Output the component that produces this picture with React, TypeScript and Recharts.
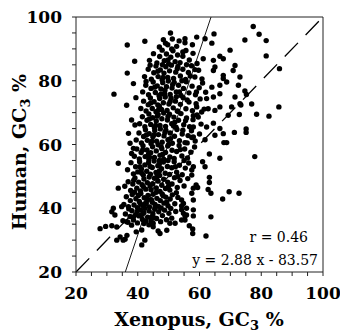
import React from "react";
import {
  ScatterChart,
  Scatter,
  XAxis,
  YAxis,
  ReferenceLine,
} from "recharts";

// [Xenopus GC3 %, Human GC3 %]
const upperLeftPairs: [number, number][] = [
  [36.6, 91.2], [42.3, 92.4], [49.0, 91.8], [32.3, 75.8], [36.6, 82.4],
  [36.4, 72.3], [39.0, 86.1], [38.6, 79.1], [42.7, 79.8], [39.4, 74.7],
  [38.0, 57.2], [38.6, 58.8], [33.7, 54.1], [33.7, 46.3], [34.8, 40.5],
  [38.0, 67.7], [39.1, 66.1], [37.5, 60.4], [37.0, 63.5],
];

const lowerLeftPairs: [number, number][] = [
  [27.8, 33.6], [29.6, 34.3], [31.6, 34.5], [33.2, 34.1], [33.2, 30.0],
  [35.3, 30.0], [31.6, 38.9], [32.6, 37.9], [32.1, 40.0], [36.4, 35.8],
  [38.0, 34.7], [41.3, 33.2], [41.3, 28.5], [42.3, 30.0], [47.2, 32.1],
  [50.4, 35.3], [52.1, 35.3], [45.0, 34.2], [44.5, 37.3], [38.6, 37.3],
  [35.9, 30.3], [34.3, 31.0], [46.6, 32.9], [36.5, 31.5], [39.5, 32.6],
  [43.6, 34.8], [49.4, 33.1],
];

const rightPairs: [number, number][] = [
  [77.4, 97.0], [79.3, 94.6], [74.7, 92.8], [81.6, 92.6], [81.6, 87.8],
  [85.9, 83.8], [76.9, 72.7], [85.7, 71.8], [78.5, 69.5], [82.5, 68.9],
  [75.1, 64.9], [75.1, 63.8], [73.4, 72.4], [72.9, 69.4], [75.2, 75.7],
  [77.9, 56.2], [63.2, 57.0], [66.6, 55.7], [61.0, 54.6], [61.8, 53.0],
  [58.0, 53.0], [57.5, 52.0], [57.5, 50.4], [63.2, 49.7], [63.2, 48.1],
  [58.9, 47.3], [58.0, 46.3], [59.4, 46.5], [62.8, 45.9], [63.7, 44.7],
  [69.6, 45.2], [72.8, 44.7], [67.5, 42.9], [57.5, 44.7], [58.0, 42.6],
  [58.0, 39.5], [58.0, 37.6], [63.7, 37.3], [56.7, 34.5], [57.8, 33.5],
  [57.8, 32.1], [62.1, 31.3], [54.2, 39.5], [54.8, 38.4], [55.3, 37.6],
  [55.8, 37.9], [54.2, 36.3], [55.3, 36.3], [54.8, 41.5], [54.2, 42.6],
  [55.8, 40.0],
  [55.3, 93.2], [55.3, 91.9], [59.1, 93.7], [64.0, 91.8], [54.6, 89.0],
  [61.8, 93.2], [61.2, 86.9], [69.9, 89.6], [64.5, 86.4], [66.6, 87.7],
  [67.7, 86.9], [71.5, 84.8], [70.9, 83.2], [73.1, 81.2], [67.7, 81.7],
  [64.5, 83.2], [65.0, 84.3], [67.7, 80.7], [72.6, 78.6], [66.6, 78.6],
  [68.8, 79.6], [64.0, 78.0], [74.7, 76.8], [71.5, 74.9], [66.6, 75.9],
  [64.5, 74.9], [62.3, 74.4], [70.4, 71.8], [69.3, 69.2], [66.6, 71.8],
  [73.1, 72.8], [62.8, 71.2], [65.0, 70.7], [59.1, 71.8], [60.7, 70.2],
  [59.6, 68.6], [64.5, 66.7], [62.3, 65.5], [66.6, 65.0], [65.0, 62.9],
  [67.7, 63.4], [58.0, 65.5], [58.0, 62.4], [61.8, 61.5], [67.9, 60.6],
  [68.8, 60.6], [71.3, 63.8], [64.7, 94.7], [57.7, 91.3],
];

const coreLowPairs: [number, number][] = [
  [35.2, 36.1], [36.0, 38.2], [36.8, 35.6], [37.5, 37.4], [38.1, 39.2],
  [38.6, 36.3], [39.3, 38.0], [39.9, 35.4], [40.4, 37.6], [40.9, 39.5],
  [41.5, 36.5], [42.0, 38.6], [42.6, 35.9], [43.2, 37.2], [43.7, 39.1],
  [44.3, 36.0], [44.9, 38.3], [45.5, 39.7], [46.1, 36.8], [46.8, 38.9],
  [47.4, 35.8], [48.0, 37.7], [48.7, 39.4], [49.3, 36.4], [50.1, 38.4],
  [51.0, 36.9], [52.3, 39.0], [37.1, 39.8], [45.0, 35.3], [41.2, 38.0],
  [35.5, 41.2], [36.3, 43.6], [37.0, 40.5], [37.6, 42.4], [38.2, 44.3],
  [38.8, 41.0], [39.4, 43.0], [39.9, 40.2], [40.5, 42.1], [41.0, 44.6],
  [41.6, 40.9], [42.1, 43.3], [42.7, 41.5], [43.3, 44.0], [43.8, 40.4],
  [44.4, 42.7], [45.0, 44.4], [45.6, 41.2], [46.2, 43.1], [46.7, 40.6],
  [47.3, 42.4], [47.9, 44.5], [48.5, 41.6], [49.1, 43.5], [49.8, 40.8],
  [50.5, 42.9], [51.2, 44.2], [52.0, 41.4], [53.0, 43.4], [54.2, 40.7],
  [39.0, 45.0], [44.7, 41.9], [40.8, 41.5], [48.2, 43.9],
  [35.8, 46.9], [36.9, 48.3], [37.7, 45.6], [38.4, 47.6], [39.1, 49.5],
  [39.7, 46.3], [40.3, 48.2], [40.9, 45.4], [41.4, 47.4], [42.0, 49.2],
  [42.6, 46.0], [43.1, 48.0], [43.7, 49.8], [44.3, 45.8], [44.8, 47.7],
  [45.4, 49.4], [46.0, 46.4], [46.6, 48.5], [47.2, 45.3], [47.8, 47.2],
  [48.4, 49.1], [49.0, 46.2], [49.7, 48.2], [50.4, 45.7], [51.1, 47.6],
  [51.9, 49.6], [52.8, 46.5], [53.7, 48.7], [55.0, 47.0], [56.2, 49.3],
  [41.8, 46.8], [46.3, 49.9],
];

const coreMidPairs: [number, number][] = [
  [36.7, 52.1], [37.8, 54.3], [38.6, 50.8], [39.3, 53.0], [40.0, 51.4],
  [40.6, 54.6], [41.2, 52.3], [41.8, 50.4], [42.3, 53.6], [42.9, 51.6],
  [43.5, 54.3], [44.1, 50.7], [44.7, 52.8], [45.3, 54.8], [45.9, 51.2],
  [46.5, 53.3], [47.1, 50.3], [47.7, 52.4], [48.3, 54.5], [48.9, 51.0],
  [49.6, 53.1], [50.3, 50.6], [51.0, 52.7], [51.8, 54.6], [52.6, 51.3],
  [53.5, 53.5], [54.4, 50.5], [55.4, 52.6], [56.5, 54.2], [44.0, 53.1],
  [47.0, 55.0],
  [38.9, 56.3], [39.7, 58.6], [40.5, 55.5], [41.1, 57.5], [41.7, 59.6],
  [42.4, 56.2], [43.0, 58.3], [43.6, 55.3], [44.2, 57.4], [44.8, 59.3],
  [45.4, 55.9], [46.0, 58.0], [46.6, 59.9], [47.2, 56.6], [47.8, 58.7],
  [48.4, 55.4], [49.0, 57.5], [49.7, 59.5], [50.4, 56.1], [51.1, 58.2],
  [51.8, 55.6], [52.6, 57.8], [53.4, 59.7], [54.3, 56.4], [55.2, 58.6],
  [56.1, 55.8], [57.2, 57.6], [58.4, 59.2], [43.5, 57.0], [48.0, 56.9],
  [39.5, 61.4], [40.4, 63.6], [41.2, 60.5], [41.9, 62.5], [42.5, 64.6],
  [43.1, 61.3], [43.7, 63.4], [44.3, 60.3], [44.9, 62.4], [45.5, 64.4],
  [46.1, 61.0], [46.7, 63.1], [47.3, 64.9], [47.9, 60.7], [48.5, 62.7],
  [49.1, 64.5], [49.8, 61.5], [50.5, 63.6], [51.2, 60.4], [51.9, 62.6],
  [52.7, 64.7], [53.5, 61.2], [54.4, 63.3], [55.3, 60.6], [56.3, 62.8],
  [57.4, 64.3], [58.6, 61.1], [60.0, 63.3], [45.2, 63.0], [50.0, 60.0],
  [40.6, 66.5], [41.5, 68.7], [42.3, 65.6], [43.0, 67.6], [43.6, 69.6],
  [44.2, 66.3], [44.8, 68.4], [45.4, 65.3], [46.0, 67.4], [46.6, 69.4],
  [47.2, 66.0], [47.8, 68.1], [48.4, 69.9], [49.0, 65.7], [49.6, 67.7],
  [50.3, 69.5], [51.0, 66.5], [51.7, 68.6], [52.4, 65.4], [53.2, 67.6],
  [54.0, 69.7], [54.9, 66.2], [55.8, 68.3], [56.8, 65.6], [57.9, 67.8],
  [59.2, 69.3], [60.5, 66.4], [46.3, 68.9], [52.0, 67.0],
];

const coreHighPairs: [number, number][] = [
  [41.0, 71.3], [41.9, 73.6], [42.7, 70.5], [43.4, 72.5], [44.1, 74.6],
  [44.7, 71.3], [45.3, 73.4], [45.9, 70.3], [46.5, 72.4], [47.1, 74.4],
  [47.7, 71.0], [48.3, 73.1], [48.9, 74.9], [49.5, 70.7], [50.1, 72.7],
  [50.8, 74.5], [51.5, 71.5], [52.2, 73.6], [53.0, 70.4], [53.8, 72.6],
  [54.7, 74.7], [55.6, 71.2], [56.6, 73.3], [57.7, 70.6], [58.9, 72.8],
  [60.2, 74.3], [61.5, 71.1], [47.0, 72.0], [52.5, 75.0],
  [41.6, 76.5], [42.6, 78.6], [43.5, 75.6], [44.3, 77.6], [45.0, 79.6],
  [45.7, 76.3], [46.3, 78.4], [46.9, 75.3], [47.5, 77.4], [48.1, 79.4],
  [48.7, 76.0], [49.3, 78.1], [49.9, 79.9], [50.5, 75.7], [51.1, 77.7],
  [51.8, 79.5], [52.5, 76.5], [53.2, 78.6], [54.0, 75.4], [54.8, 77.6],
  [55.7, 79.7], [56.6, 76.2], [57.6, 78.3], [58.7, 75.6], [59.9, 77.8],
  [61.0, 79.3], [62.0, 76.4], [48.8, 77.0],
  [42.2, 81.3], [43.4, 83.6], [44.4, 80.5], [45.2, 82.5], [45.9, 84.6],
  [46.6, 81.3], [47.3, 83.4], [47.9, 80.3], [48.5, 82.4], [49.1, 84.4],
  [49.7, 81.0], [50.3, 83.1], [50.9, 84.9], [51.6, 80.7], [52.3, 82.7],
  [53.0, 84.5], [53.8, 81.5], [54.6, 83.6], [55.5, 80.4], [56.4, 82.6],
  [57.4, 84.7], [58.5, 81.2], [59.7, 83.3], [60.8, 80.6], [44.0, 84.9],
  [43.8, 86.4], [45.1, 88.5], [46.2, 85.6], [47.1, 87.6], [47.9, 89.6],
  [48.6, 86.3], [49.3, 88.4], [50.0, 85.3], [50.7, 87.4], [51.4, 89.4],
  [52.1, 86.0], [52.9, 88.1], [53.7, 85.7], [54.6, 87.7], [55.6, 89.5],
  [56.7, 86.5], [57.9, 88.6], [59.2, 85.4],
  [47.0, 90.6], [49.7, 91.3], [51.2, 93.1], [52.6, 90.8], [53.4, 92.5],
  [50.6, 95.0], [48.3, 92.9],
];

// extra genes filling the darkest part of the cloud
const coreFillPairs: [number, number][] = [
  [39.8, 39.0], [42.3, 40.0], [45.2, 37.0], [47.6, 40.1], [50.7, 39.9],
  [40.2, 44.0], [43.0, 42.6], [46.0, 45.0], [49.4, 42.0], [52.5, 44.9],
  [38.7, 48.8], [41.3, 51.0], [44.0, 47.0], [47.0, 51.7], [50.0, 47.0],
  [53.0, 50.0], [40.7, 53.0], [43.8, 56.0], [46.9, 53.8], [49.8, 55.0],
  [52.2, 53.0], [55.0, 55.0], [41.6, 58.3], [44.6, 61.0], [47.6, 59.2],
  [50.6, 61.8], [53.8, 58.4], [56.0, 60.5], [42.8, 63.0], [45.8, 66.0],
  [48.8, 63.8], [51.6, 65.8], [54.6, 64.5], [57.5, 62.2], [43.8, 68.0],
  [46.8, 71.0], [49.8, 68.8], [52.8, 70.5], [55.5, 67.5], [58.0, 69.0],
  [44.2, 73.0], [47.5, 75.8], [50.5, 73.5], [53.5, 76.5], [56.0, 74.0],
  [59.0, 76.5], [45.5, 78.0], [48.2, 81.0], [51.3, 78.8], [54.3, 80.0],
  [57.0, 81.5], [46.5, 83.0], [49.8, 86.5], [52.8, 83.8], [55.8, 85.0],
  [58.5, 83.5], [48.0, 85.0], [51.0, 90.0], [45.6, 40.2], [42.0, 35.2],
];

const axisTicks = [20, 25, 30, 35, 40, 45, 50, 55, 60, 65, 70, 75, 80, 85, 90, 95, 100];
const identityLine = [{ x: 20, y: 20 }, { x: 100, y: 100 }];
const fitSlope = 2.88;
const fitIntercept = -83.57;
const correlation = 0.46;

const genes = [
  ...upperLeftPairs,
  ...lowerLeftPairs,
  ...rightPairs,
  ...coreLowPairs,
  ...coreMidPairs,
  ...coreHighPairs,
  ...coreFillPairs,
].map(([x, y]) => ({ x, y }));

const fitLine = [
  { x: (20 - fitIntercept) / fitSlope, y: 20 },
  { x: (100 - fitIntercept) / fitSlope, y: 100 },
];

const font = "'DejaVu Serif', serif";
const frame = "#222";

const majorOnly = (v: number) => (v % 20 === 0 ? String(v) : "");

function Dot(props: any) {
  return <circle cx={props.cx} cy={props.cy} r={2.7} fill="#000" />;
}

function XTitle() {
  return (
    <text x={199} y={326} textAnchor="middle" fontFamily={font} fontSize={19} fontWeight="bold" fill="#000">
      Xenopus, GC
      <tspan dy={4} fontSize={13}>3</tspan>
      <tspan dy={-4}> %</tspan>
    </text>
  );
}

function YTitle() {
  return (
    <text
      x={0}
      y={0}
      transform="translate(26,152) rotate(-90)"
      textAnchor="middle"
      fontFamily={font}
      fontSize={19}
      fontWeight="bold"
      fill="#000"
    >
      Human, GC
      <tspan dy={4} fontSize={13}>3</tspan>
      <tspan dy={-4}> %</tspan>
    </text>
  );
}

function FitNote() {
  return (
    <g fontFamily={font} fontSize={14} fill="#000">
      <text x={308} y={242} textAnchor="end">{`r = ${correlation.toFixed(2)}`}</text>
      <text x={318} y={265} textAnchor="end">{`y = ${fitSlope} x - ${Math.abs(fitIntercept)}`}</text>
    </g>
  );
}

export default function App() {
  const tickStyle = { fill: "#000", fontSize: 17, fontFamily: font, fontWeight: "bold" };
  return (
    <div style={{ position: "absolute", left: 0, top: 0, width: 340, height: 332, background: "#fff" }}>
      <ScatterChart width={340} height={332} margin={{ top: 12, right: 12, bottom: 0, left: 0 }}>
        <XAxis
          xAxisId="b"
          type="number"
          dataKey="x"
          domain={[20, 100]}
          ticks={axisTicks}
          interval={0}
          tickFormatter={majorOnly}
          tick={tickStyle}
          tickSize={4}
          tickMargin={11}
          stroke={frame}
          height={60}
          label={{ content: () => <XTitle /> }}
        />
        <XAxis
          xAxisId="t"
          orientation="top"
          type="number"
          dataKey="x"
          domain={[20, 100]}
          ticks={axisTicks}
          interval={0}
          tickFormatter={() => ""}
          tickSize={4}
          stroke={frame}
          height={5}
        />
        <YAxis
          yAxisId="l"
          type="number"
          dataKey="y"
          domain={[20, 100]}
          ticks={axisTicks}
          interval={0}
          tickFormatter={majorOnly}
          tick={tickStyle}
          tickSize={4}
          tickMargin={10}
          stroke={frame}
          width={76}
          label={{ content: () => <YTitle /> }}
        />
        <YAxis
          yAxisId="r"
          orientation="right"
          type="number"
          dataKey="y"
          domain={[20, 100]}
          ticks={axisTicks}
          interval={0}
          tickFormatter={() => ""}
          tickSize={4}
          stroke={frame}
          width={5}
        />
        <ReferenceLine
          xAxisId="b"
          yAxisId="l"
          segment={identityLine}
          stroke="#000"
          strokeWidth={1.3}
          strokeDasharray="19 11"
        />
        <ReferenceLine
          xAxisId="b"
          yAxisId="l"
          segment={fitLine}
          stroke="#000"
          strokeWidth={0.9}
          label={{ content: () => <FitNote /> }}
        />
        <Scatter
          xAxisId="b"
          yAxisId="l"
          data={genes}
          shape={Dot}
          isAnimationActive={false}
        />
      </ScatterChart>
    </div>
  );
}
